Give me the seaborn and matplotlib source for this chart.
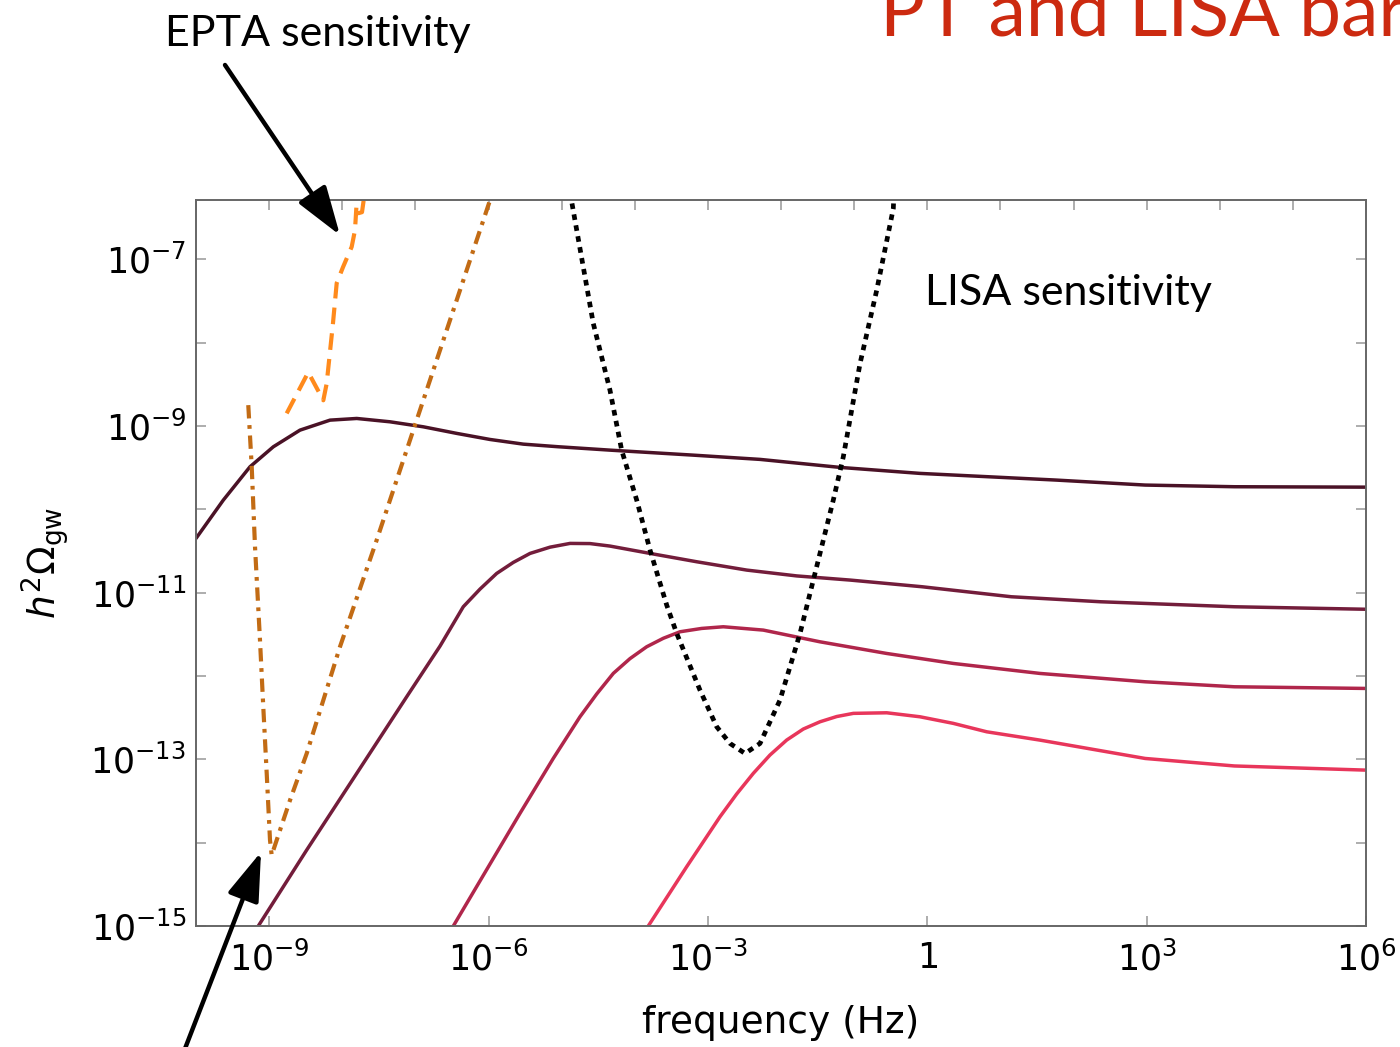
import numpy as np
import pandas as pd
import matplotlib
matplotlib.use('Agg')
from matplotlib import pyplot as plt
from matplotlib.ticker import FixedLocator, FixedFormatter, NullFormatter
import seaborn as sns

# values, stored as log10(frequency / Hz) and log10(h^2 Omega_gw)
spec1_logf = [-10.0, -9.627, -9.262, -8.943, -8.578, -8.167, -7.802, -7.347, -6.892, -6.435,
              -5.979, -5.524, -5.05, -4.338, -3.199, -2.287, -1.193, -0.099, 1.76, 2.98, 4.2, 6.0]
spec1_logo = [-10.35, -9.891, -9.491, -9.251, -9.051, -8.931, -8.911, -8.951, -9.011, -9.09,
              -9.163, -9.219, -9.25, -9.291, -9.351, -9.402, -9.498, -9.57, -9.65, -9.71, -9.73, -9.735]

spec2_logf = [-9.148, -8.486, -7.802, -7.119, -6.663, -6.345, -6.116, -5.888, -5.661, -5.432,
              -5.159, -4.885, -4.612, -4.338, -3.791, -3.153, -2.469, -1.785, -1.053, -0.07,
              1.15, 2.37, 4.2, 6.0]
spec2_logo = [-15.0, -14.088, -13.169, -12.25, -11.642, -11.17, -10.958, -10.77, -10.638, -10.53,
              -10.455, -10.41, -10.412, -10.442, -10.53, -10.63, -10.73, -10.80, -10.85, -10.93,
              -11.05, -11.11, -11.17, -11.2]

spec3_logf = [-6.481, -5.569, -5.114, -4.749, -4.521, -4.293, -4.065, -3.837, -3.609, -3.381,
              -3.085, -2.789, -2.242, -1.47, -0.557, 0.356, 1.542, 2.98, 4.2, 6.0]
spec3_logo = [-15.0, -13.648, -12.989, -12.49, -12.217, -11.969, -11.792, -11.65, -11.548, -11.47,
              -11.43, -11.41, -11.45, -11.59, -11.73, -11.85, -11.97, -12.07, -12.13, -12.15]

spec4_logf = [-3.815, -3.29, -2.834, -2.607, -2.379, -2.151, -1.922, -1.695, -1.467, -1.238,
              -1.011, -0.554, -0.099, 0.356, 0.813, 1.542, 2.98, 4.2, 6.0]
spec4_logo = [-15.0, -14.289, -13.689, -13.417, -13.169, -12.949, -12.769, -12.637, -12.55, -12.487,
              -12.449, -12.442, -12.49, -12.569, -12.67, -12.77, -12.99, -13.08, -13.13]

lisa_logf = [-4.885, -4.862, -4.567, -4.339, -4.179, -3.973, -3.791, -3.563, -3.426, -3.108,
             -2.879, -2.697, -2.492, -2.287, -2.014, -1.74, -1.558, -1.285, -1.148, -0.919,
             -0.691, -0.464, -0.455]
lisa_logo = [-6.2, -6.313, -7.771, -8.571, -9.291, -9.891, -10.49, -11.15, -11.49, -12.17,
             -12.61, -12.81, -12.93, -12.81, -12.29, -11.49, -10.85, -9.891, -9.371, -8.251,
             -7.372, -6.392, -6.2]

pta_logf = [-9.285, -9.238, -9.193, -9.125, -9.08, -9.033, -8.988, -8.965, -8.714, -8.486,
            -8.031, -7.529, -7.165, -6.8, -5.979, -5.95]
pta_logo = [-8.751, -9.491, -10.45, -11.57, -12.37, -13.17, -13.97, -14.15, -13.49, -12.93,
            -11.65, -10.37, -9.411, -8.451, -6.292, -6.2]

epta_logf = [-8.76, -8.465, -8.259, -8.213, -8.127, -8.076, -7.99, -7.871, -7.826, -7.805,
             -7.778, -7.73, -7.70]
epta_logo = [-8.85, -8.357, -8.693, -8.492, -7.77, -7.288, -7.096, -6.852, -6.653, -6.352,
             -6.448, -6.436, -6.25]

spectrum_names = ['s1', 's2', 's3', 's4']
spectrum_colors = ['#4a1226', '#731d3b', '#b0264b', '#e8365b']

xtick_vals = [1e-9, 1e-6, 1e-3, 1, 1e3, 1e6]
xtick_labels = ['$10^{-9}$', '$10^{-6}$', '$10^{-3}$', '$1$', '$10^{3}$', '$10^{6}$']
ytick_vals = [1e-15, 1e-13, 1e-11, 1e-9, 1e-7]
ytick_labels = ['$10^{-15}$', '$10^{-13}$', '$10^{-11}$', '$10^{-9}$', '$10^{-7}$']

rows = []
for name, lf, lo in zip(spectrum_names,
                        [spec1_logf, spec2_logf, spec3_logf, spec4_logf],
                        [spec1_logo, spec2_logo, spec3_logo, spec4_logo]):
    for a, b in zip(lf, lo):
        rows.append({'curve': name, 'f': 10.0 ** a, 'omega': 10.0 ** b})
df = pd.DataFrame(rows)

sns.set_style('ticks', {'xtick.direction': 'in', 'ytick.direction': 'in',
                        'axes.edgecolor': '#666666', 'text.color': 'black',
                        'axes.labelcolor': 'black'})
plt.rcParams['font.family'] = ['DejaVu Sans']

fig = plt.figure(figsize=(14, 10.47), dpi=100)
ax = fig.add_axes([196 / 1400, 1 - 926 / 1047, 1170 / 1400, 726 / 1047])

sns.lineplot(data=df, x='f', y='omega', hue='curve', palette=spectrum_colors,
             hue_order=spectrum_names, estimator=None, sort=False, lw=2.5,
             legend=False, ax=ax)

sns.lineplot(x=10.0 ** np.array(lisa_logf), y=10.0 ** np.array(lisa_logo), sort=False,
             estimator=None, color='black', lw=3.4, linestyle=(0, (1.2, 1.15)), ax=ax)
sns.lineplot(x=10.0 ** np.array(pta_logf), y=10.0 ** np.array(pta_logo), sort=False,
             estimator=None, color='#c26b14', lw=3.0, linestyle=(0, (3.2, 1.6, 0.9, 1.6)), ax=ax)
sns.lineplot(x=10.0 ** np.array(epta_logf), y=10.0 ** np.array(epta_logo), sort=False,
             estimator=None, color='#ff8a1c', lw=3.0, linestyle=(0, (4.0, 2.2)), ax=ax)

ax.set_xscale('log')
ax.set_yscale('log')
ax.set_xlim(1e-10, 1e6)
ax.set_ylim(1e-15, 10 ** -6.29)

ax.xaxis.set_major_locator(FixedLocator(xtick_vals))
ax.xaxis.set_major_formatter(FixedFormatter(xtick_labels))
ax.xaxis.set_minor_locator(FixedLocator(10.0 ** np.arange(-10, 7)))
ax.xaxis.set_minor_formatter(NullFormatter())
ax.yaxis.set_major_locator(FixedLocator(ytick_vals))
ax.yaxis.set_major_formatter(FixedFormatter(ytick_labels))
ax.yaxis.set_minor_locator(FixedLocator(10.0 ** np.arange(-15, -6)))
ax.yaxis.set_minor_formatter(NullFormatter())

ax.tick_params(which='both', direction='in', top=True, right=True, color='#a0a0a0',
               width=1.2, length=7, labelsize=25, labelcolor='black')
ax.tick_params(axis='x', which='minor', bottom=False, top=True)
ax.tick_params(axis='x', which='major', pad=11)
ax.tick_params(axis='y', which='major', pad=7)
for s in ax.spines.values():
    s.set_color('#666666')
    s.set_linewidth(1.4)

ax.set_xlabel('frequency (Hz)', fontsize=27, labelpad=20, color='black')
ax.set_ylabel(r'$h^2\Omega_{\rm gw}$', fontsize=27, labelpad=14, color='black')

ann_font = ['Lato', 'DejaVu Sans']
fig.text(880 / 1400, 1 - 36 / 1047, 'PT and LISA bar', color='#cc2a10', fontsize=54,
         family=ann_font, ha='left', va='baseline')
fig.text(165 / 1400, 1 - 46 / 1047, 'EPTA sensitivity', color='black', fontsize=31,
         family=ann_font, ha='left', va='baseline')
fig.text(925 / 1400, 1 - 305 / 1047, 'LISA sensitivity', color='black', fontsize=31,
         family=ann_font, ha='left', va='baseline')

arrow_kw = dict(arrowstyle='-|>,head_length=1.2,head_width=0.4', lw=3.2, color='black',
                mutation_scale=25, shrinkA=0, shrinkB=0)
ax.annotate('', xy=(10 ** -8.031, 10 ** -6.712), xycoords='data',
            xytext=(225, 1047 - 65), textcoords='figure pixels',
            arrowprops=arrow_kw, annotation_clip=False)
ax.annotate('', xy=(10 ** -9.111, 10 ** -14.112), xycoords='data',
            xytext=(181, -12), textcoords='figure pixels',
            arrowprops=arrow_kw, annotation_clip=False)

plt.savefig('out.png', dpi=100)
